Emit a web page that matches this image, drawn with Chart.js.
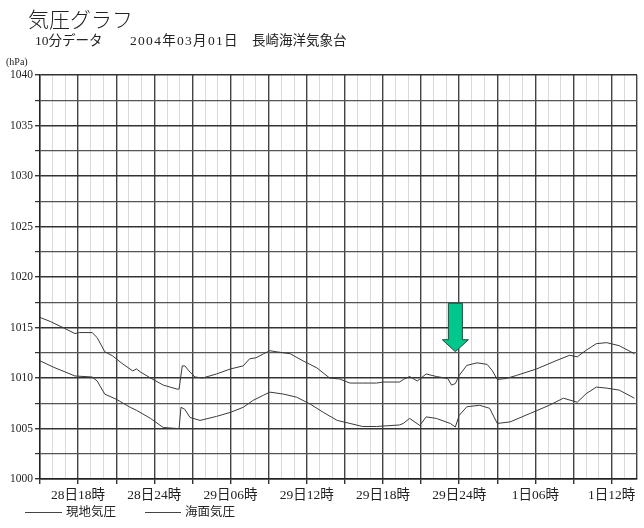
<!DOCTYPE html>
<html lang="ja">
<head>
<meta charset="utf-8">
<title>気圧グラフ</title>
<script src="https://cdn.jsdelivr.net/npm/chart.js@4/dist/chart.umd.min.js"></script>
<style>
    body { margin: 0; background: #fff; }
    #wrap { position: relative; width: 644px; height: 528px; font-family: 'Liberation Serif', 'Noto Sans CJK JP', serif; color: #222; }
    #wrap canvas { position: absolute; left: 0; top: 0; }
    .txt { position: absolute; white-space: pre; line-height: 1; }
    #title { left: 28px; top: 8px; font-size: 21px; font-family: 'Noto Sans CJK JP', sans-serif; font-weight: 300; }
    .sub { top: 34px; font-size: 13.5px; }
    #unit { left: 6px; top: 57px; font-size: 10px; }
    .leg-line { position: absolute; height: 1px; background: #444; top: 512px; }
    .leg-text { position: absolute; top: 505px; font-size: 12.5px; font-family: 'Noto Sans CJK JP', sans-serif; }
</style>
</head>
<body>
<div id="wrap">
    <canvas id="pressureChart" width="644" height="528"></canvas>
    <div class="txt" id="title">気圧グラフ</div>
    <div class="txt sub" style="left:35px">10分データ</div>
    <div class="txt sub" style="left:130px;letter-spacing:1.3px">2004年03月01日</div>
    <div class="txt sub" style="left:252px">長崎海洋気象台</div>
    <div class="txt" id="unit">(hPa)</div>
    <div class="leg-line" style="left:25px;width:37px"></div>
    <div class="txt leg-text" style="left:66px">現地気圧</div>
    <div class="leg-line" style="left:145px;width:36px"></div>
    <div class="txt leg-text" style="left:185px">海面気圧</div>
</div>
<script>
// heures depuis le 28日15時
const seaHours = [0, 0.8, 1.8, 2.75, 3.1, 4.1, 4.5, 5.1, 5.7, 6.4, 7.3, 7.6, 7.9, 8.7, 9.7, 10.8, 10.95, 11.2, 11.4, 11.8,
    12.2, 12.8, 13.9, 15.0, 16.0, 16.5, 17.0, 17.6, 18.1, 18.6, 19.7, 20.7, 21.8, 22.8, 23.6, 24.4, 25.4, 26.5, 27.0, 28.3,
    28.6, 29.1, 29.7, 30.4, 31.2, 32.1, 32.4, 32.7, 33.0, 33.6, 34.4, 35.2, 35.6, 36.0, 36.7, 37.5, 39.1, 40.7, 41.7, 42.3,
    43.0, 43.8, 44.6, 45.6, 46.8];
const seaPressure = [1016.0, 1015.6, 1015.0, 1014.4, 1014.5, 1014.5, 1014.0, 1012.6, 1012.2, 1011.5, 1010.7, 1010.9, 1010.6, 1010.0, 1009.3, 1008.9, 1008.9, 1011.2, 1011.2, 1010.6,
    1010.1, 1010.0, 1010.4, 1010.9, 1011.2, 1011.9, 1012.0, 1012.4, 1012.7, 1012.6, 1012.4, 1011.7, 1011.0, 1010.0, 1009.9, 1009.5, 1009.5, 1009.5, 1009.6, 1009.6,
    1009.85, 1010.15, 1009.7, 1010.4, 1010.15, 1009.95, 1009.3, 1009.45, 1010.25, 1011.25, 1011.5, 1011.35, 1010.75, 1009.85, 1009.95, 1010.25, 1010.9, 1011.75, 1012.25, 1012.1,
    1012.75, 1013.4, 1013.5, 1013.2, 1012.4];

const stationHours = [0, 1.1, 2.75, 4.1, 4.5, 5.1, 6.0, 7.1, 7.6, 8.7, 9.7, 10.8, 10.95, 11.1, 11.4, 11.8, 12.6, 13.9, 15.0, 16.0,
    16.8, 17.6, 18.1, 19.2, 20.2, 21.3, 22.3, 23.4, 24.4, 25.4, 26.5, 28.3, 28.6, 29.1, 29.9, 30.4, 31.2, 32.3, 32.7, 33.0,
    33.6, 34.6, 35.4, 36.0, 37.0, 38.6, 40.1, 41.2, 42.3, 43.0, 43.8, 44.6, 45.6, 46.8];
const stationPressure = [1011.7, 1011.05, 1010.2, 1010.1, 1009.7, 1008.4, 1007.9, 1007.1, 1006.8, 1006.0, 1005.1, 1005.0, 1005.0, 1007.1, 1006.9, 1006.1, 1005.8, 1006.2, 1006.6, 1007.1,
    1007.8, 1008.3, 1008.6, 1008.4, 1008.1, 1007.4, 1006.6, 1005.8, 1005.5, 1005.2, 1005.2, 1005.35, 1005.5, 1006.0, 1005.3, 1006.15, 1006.0, 1005.5, 1005.15, 1006.3,
    1007.15, 1007.3, 1007.0, 1005.5, 1005.65, 1006.5, 1007.3, 1008.0, 1007.6, 1008.45, 1009.1, 1009.0, 1008.8, 1008.0];

const tickHours = [3, 9, 15, 21, 27, 33, 39, 45];
const tickLabels = ['28日18時', '28日24時', '29日06時', '29日12時', '29日18時', '29日24時', '1日06時', '1日12時'];

// flèche verte (heure, pointe, haut)
const arrowHour = 32.7;
const arrowTip = 1012.6;
const arrowTop = 1017.4;

const hourMin = 0;
const hourMax = 47;
const hpaMin = 1000;
const hpaMax = 1040;

document.addEventListener('DOMContentLoaded', () => {
    const ctx = document.getElementById('pressureChart').getContext('2d');

    function toPoints(xs, ys) {
        return xs.map((h, i) => ({ x: h, y: ys[i] }));
    }

    const arrowPlugin = {
        id: 'arrow',
        afterDatasetsDraw(chart) {
            const c = chart.ctx;
            const x = chart.scales.x.getPixelForValue(arrowHour);
            const yTip = chart.scales.y.getPixelForValue(arrowTip);
            const yTop = chart.scales.y.getPixelForValue(arrowTop);
            const headH = 12;
            c.save();
            c.beginPath();
            c.moveTo(x - 7, yTop);
            c.lineTo(x + 7, yTop);
            c.lineTo(x + 7, yTip - headH);
            c.lineTo(x + 13, yTip - headH);
            c.lineTo(x, yTip);
            c.lineTo(x - 13, yTip - headH);
            c.lineTo(x - 7, yTip - headH);
            c.closePath();
            c.fillStyle = '#00c88c';
            c.fill();
            c.strokeStyle = '#1d4a38';
            c.lineWidth = 1;
            c.stroke();
            c.restore();
        }
    };

    new Chart(ctx, {
        type: 'line',
        data: {
            datasets: [
                {
                    label: '海面気圧',
                    data: toPoints(seaHours, seaPressure),
                    borderColor: '#3a3a3a',
                    borderWidth: 1,
                    pointRadius: 0,
                    tension: 0,
                },
                {
                    label: '現地気圧',
                    data: toPoints(stationHours, stationPressure),
                    borderColor: '#3a3a3a',
                    borderWidth: 1,
                    pointRadius: 0,
                    tension: 0,
                }
            ]
        },
        options: {
            responsive: false,
            animation: false,
            layout: { padding: { top: 75, right: 7, left: 0, bottom: 0 } },
            plugins: {
                legend: { display: false },
                tooltip: { enabled: false },
            },
            scales: {
                x: {
                    type: 'linear',
                    min: hourMin,
                    max: hourMax,
                    afterFit: (scale) => { scale.height = 49; },
                    ticks: {
                        stepSize: 1,
                        autoSkip: false,
                        maxRotation: 0,
                        padding: 3,
                        color: '#222',
                        font: { family: "'Liberation Serif', 'Noto Sans CJK JP'", size: 13.5 },
                        callback: (value) => {
                            const i = tickHours.indexOf(value);
                            return i >= 0 ? tickLabels[i] : '';
                        }
                    },
                    grid: {
                        tickLength: 5,
                        lineWidth: (c) => {
                            const v = c.tick ? c.tick.value : 0;
                            return (v % 3 === 0 || v === hourMax) ? 1.4 : 1;
                        },
                        color: (c) => {
                            const v = c.tick ? c.tick.value : 0;
                            return (v % 3 === 0 || v === hourMax) ? '#444' : '#dadada';
                        },
                        tickColor: (c) => {
                            const v = c.tick ? c.tick.value : 0;
                            return v % 3 === 0 ? '#333' : 'rgba(0,0,0,0)';
                        }
                    },
                    border: { display: true, color: '#222', width: 1.4 }
                },
                y: {
                    min: hpaMin,
                    max: hpaMax,
                    afterFit: (scale) => { scale.width = 40; },
                    ticks: {
                        stepSize: 2.5,
                        padding: 2,
                        color: '#222',
                        font: { family: "'Liberation Serif'", size: 11.5 },
                        callback: (value) => (value % 5 === 0 ? String(value) : '')
                    },
                    grid: {
                        tickLength: 5,
                        lineWidth: (c) => {
                            const v = c.tick ? c.tick.value : 0;
                            return v % 5 === 0 ? 1.4 : 1.2;
                        },
                        color: (c) => {
                            const v = c.tick ? c.tick.value : 0;
                            return v % 5 === 0 ? '#333' : '#555';
                        },
                        tickColor: '#333'
                    },
                    border: { display: true, color: '#222', width: 1.4 }
                }
            }
        },
        plugins: [arrowPlugin]
    });
});
</script>
</body>
</html>
